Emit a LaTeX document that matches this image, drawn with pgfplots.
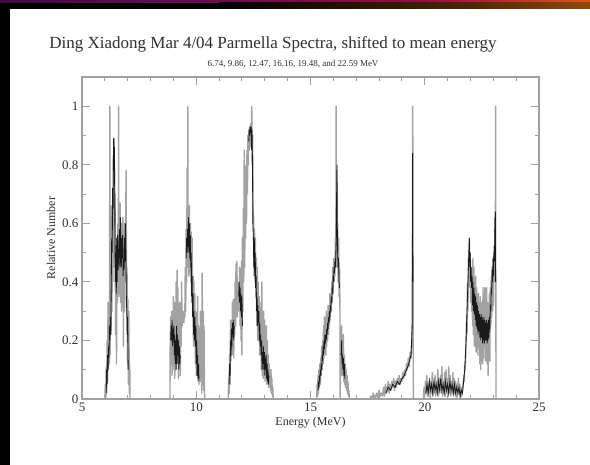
\documentclass[border=0pt]{standalone}
\usepackage{pgfplots}
\pgfplotsset{compat=1.18}
\usepackage{fontspec}
\setmainfont{Liberation Serif}
\definecolor{framegray}{HTML}{A0A0A0}
\definecolor{bandgray}{HTML}{A2A2A2}
\definecolor{darkline}{HTML}{1A1A1A}
\definecolor{txt}{HTML}{303030}
\definecolor{a0}{RGB}{61,10,66}
\definecolor{a1}{RGB}{92,15,82}
\definecolor{a2}{RGB}{122,15,71}
\definecolor{a3}{RGB}{143,15,66}
\definecolor{a4}{RGB}{179,46,46}
\definecolor{a5}{RGB}{219,87,28}
\definecolor{b1}{RGB}{36,18,0}
\definecolor{b2}{RGB}{77,38,8}
\definecolor{b3}{RGB}{143,74,13}
\pgfplotsset{gband/.style={bandgray, line width=1.4pt, line join=round}, dband/.style={darkline, line width=0.85pt}}
\begin{document}
\begin{tikzpicture}[x=1pt,y=1pt]
\useasboundingbox (0,0) rectangle (590,465);
\fill[white] (0,0) rectangle (590,465);
\shade[left color=a0, right color=a1] (0,462) rectangle (150.5,465);
\shade[left color=a1, right color=a2] (150,462) rectangle (300.5,465);
\shade[left color=a2, right color=a3] (300,462) rectangle (420.5,465);
\shade[left color=a3, right color=a4] (420,462) rectangle (500.5,465);
\shade[left color=a4, right color=a5] (500,462) rectangle (590,465);
\fill[black] (0,456) rectangle (220.5,462.2);
\shade[left color=black, right color=b1] (220,456) rectangle (350.5,462.2);
\shade[left color=b1, right color=b2] (350,456) rectangle (470.5,462.2);
\shade[left color=b2, right color=b3] (470,456) rectangle (590,462.2);
\fill[black] (0,0) rectangle (9.5,456.2);
\node[font=\fontsize{17}{20}\selectfont, text=txt] at (273,421) {Ding Xiadong Mar 4/04 Parmella Spectra, shifted to mean energy};
\node[font=\fontsize{9}{11}\selectfont, text=txt] at (293,401) {6.74, 9.86, 12.47, 16.16, 19.48, and 22.59 MeV};
\begin{axis}[
  at={(82pt,66pt)}, anchor=south west,
  scale only axis, width=457pt, height=322pt,
  xmin=5, xmax=25, ymin=0, ymax=1.1,
  xtick={5,10,15,20,25}, minor x tick num=4,
  ytick={0,0.2,0.4,0.6,0.8,1}, minor y tick num=1,
  yticklabels={0,0.2,0.4,0.6,0.8,1},
  tick align=inside,
  major tick length=8pt, minor tick length=4pt,
  axis line style={framegray, line width=1.3pt},
  every tick/.style={framegray, line width=1pt},
  tick label style={font=\fontsize{13}{15}\selectfont, text=txt},
  /pgf/number format/assume math mode=true,
  xlabel={Energy (MeV)}, ylabel={Relative Number},
  label style={font=\fontsize{12}{14}\selectfont, text=txt},
  xlabel style={yshift=1pt},
  ylabel style={yshift=0pt},
  clip=true,
]
% ---------- peak 1 ----------
\addplot[gband] coordinates {
(6.00,0.00)(6.02,0.05)(6.04,0.00)(6.06,0.11)(6.08,0.02)(6.10,0.20)(6.12,0.06)(6.14,0.33)(6.16,0.10)(6.18,0.30)(6.20,0.12)(6.22,1.00)(6.23,0.15)(6.25,0.35)(6.27,0.22)(6.29,0.66)(6.31,0.30)(6.33,0.55)(6.35,0.40)(6.37,0.82)(6.39,0.45)(6.41,0.89)(6.43,0.50)(6.45,0.70)(6.47,0.22)(6.49,0.55)(6.51,0.12)(6.53,0.50)(6.55,0.33)(6.57,0.60)(6.59,0.36)(6.60,1.00)(6.61,0.35)(6.63,0.66)(6.65,0.40)(6.67,0.67)(6.69,0.33)(6.71,0.60)(6.73,0.30)(6.75,0.58)(6.77,0.40)(6.79,0.62)(6.81,0.18)(6.83,0.50)(6.85,0.30)(6.87,0.60)(6.89,0.40)(6.91,0.55)(6.93,0.78)(6.95,0.30)(6.97,0.45)(6.99,0.12)(7.01,0.34)(7.03,0.05)(7.05,0.30)(7.07,0.02)(7.09,0.12)(7.10,0.00)};
\addplot[dband] coordinates {
(6.06,0.02)(6.08,0.10)(6.10,0.05)(6.12,0.15)(6.14,0.10)(6.16,0.18)(6.18,0.14)(6.20,0.25)(6.22,0.20)(6.24,0.28)(6.26,0.22)(6.28,0.40)(6.30,0.55)(6.32,0.50)(6.34,0.72)(6.36,0.65)(6.38,0.89)(6.40,0.80)(6.42,0.86)(6.44,0.60)(6.46,0.40)(6.48,0.50)(6.50,0.36)(6.52,0.55)(6.54,0.40)(6.56,0.56)(6.58,0.44)(6.62,0.52)(6.64,0.58)(6.66,0.45)(6.68,0.62)(6.70,0.50)(6.72,0.45)(6.74,0.55)(6.76,0.48)(6.78,0.56)(6.80,0.42)(6.82,0.48)(6.84,0.44)(6.86,0.55)(6.88,0.47)(6.90,0.60)(6.92,0.50)(6.94,0.35)(6.96,0.30)(6.98,0.22)(7.00,0.28)(7.02,0.10)};
% ---------- peak 2 ----------
\addplot[gband] coordinates {
(8.85,0.00)(8.86,0.18)(8.88,0.28)(8.90,0.12)(8.92,0.30)(8.94,0.08)(8.96,0.25)(8.98,0.10)(9.00,0.35)(9.02,0.15)(9.04,0.33)(9.06,0.07)(9.08,0.25)(9.10,0.10)(9.12,0.40)(9.14,0.12)(9.16,0.44)(9.18,0.20)(9.20,0.38)(9.22,0.07)(9.24,0.30)(9.26,0.12)(9.28,0.33)(9.30,0.08)(9.32,0.25)(9.34,0.18)(9.36,0.40)(9.38,0.25)(9.40,0.30)(9.42,0.27)(9.44,0.29)(9.46,0.26)(9.48,0.30)(9.50,0.28)(9.52,0.45)(9.54,0.30)(9.56,0.58)(9.58,0.40)(9.60,0.79)(9.62,0.45)(9.63,1.00)(9.64,0.50)(9.66,0.65)(9.68,0.42)(9.70,0.66)(9.72,0.45)(9.74,0.60)(9.76,0.40)(9.78,0.57)(9.80,0.33)(9.82,0.55)(9.84,0.30)(9.86,0.42)(9.88,0.18)(9.90,0.40)(9.92,0.20)(9.94,0.36)(9.96,0.12)(9.98,0.30)(10.00,0.08)(10.02,0.28)(10.04,0.10)(10.06,0.35)(10.08,0.06)(10.10,0.25)(10.12,0.05)(10.14,0.20)(10.16,0.07)(10.18,0.30)(10.20,0.06)(10.22,0.15)(10.24,0.02)(10.26,0.43)(10.28,0.05)(10.30,0.30)(10.32,0.03)(10.34,0.25)(10.36,0.02)(10.38,0.00)};
\addplot[dband] coordinates {
(8.88,0.20)(8.90,0.25)(8.92,0.20)(8.94,0.27)(8.96,0.18)(8.98,0.24)(9.00,0.20)(9.02,0.25)(9.04,0.15)(9.06,0.22)(9.08,0.12)(9.10,0.20)(9.12,0.10)(9.14,0.25)(9.16,0.12)(9.18,0.22)(9.20,0.15)(9.22,0.20)(9.24,0.10)(9.26,0.18)(9.28,0.12)(9.30,0.15)};
\addplot[dband] coordinates {
(9.56,0.48)(9.58,0.55)(9.60,0.50)(9.62,0.58)(9.64,0.52)(9.66,0.62)(9.68,0.50)(9.70,0.60)(9.72,0.48)(9.74,0.56)(9.76,0.45)(9.78,0.50)(9.80,0.35)(9.82,0.42)(9.84,0.28)(9.86,0.36)(9.88,0.22)(9.90,0.30)(9.92,0.20)(9.94,0.28)(9.96,0.18)(9.98,0.25)(10.00,0.12)(10.02,0.20)(10.04,0.08)(10.06,0.15)(10.08,0.07)(10.10,0.12)(10.12,0.06)};
% ---------- peak 3 ----------
\addplot[gband] coordinates {
(11.40,0.00)(11.42,0.07)(11.44,0.02)(11.46,0.15)(11.48,0.05)(11.50,0.27)(11.52,0.13)(11.54,0.25)(11.56,0.15)(11.58,0.33)(11.60,0.20)(11.62,0.34)(11.64,0.14)(11.66,0.30)(11.68,0.22)(11.70,0.40)(11.72,0.25)(11.74,0.46)(11.76,0.30)(11.78,0.47)(11.80,0.28)(11.82,0.40)(11.84,0.33)(11.86,0.38)(11.88,0.30)(11.90,0.45)(11.92,0.25)(11.94,0.40)(11.96,0.20)(11.98,0.47)(12.00,0.15)(12.02,0.55)(12.04,0.30)(12.06,0.65)(12.08,0.40)(12.10,0.85)(12.12,0.45)(12.14,0.70)(12.16,0.55)(12.18,0.80)(12.20,0.60)(12.22,0.85)(12.24,0.70)(12.26,0.90)(12.28,0.80)(12.30,0.92)(12.32,0.85)(12.34,0.93)(12.36,0.88)(12.38,0.94)(12.40,0.86)(12.43,1.00)(12.45,0.80)(12.47,0.90)(12.49,0.60)(12.51,0.62)(12.53,0.42)(12.55,0.58)(12.57,0.40)(12.59,0.55)(12.61,0.35)(12.63,0.48)(12.65,0.25)(12.67,0.45)(12.69,0.20)(12.71,0.40)(12.73,0.22)(12.75,0.35)(12.77,0.15)(12.79,0.33)(12.81,0.18)(12.83,0.30)(12.85,0.10)(12.87,0.40)(12.89,0.08)(12.91,0.25)(12.93,0.07)(12.95,0.30)(12.97,0.10)(12.99,0.27)(13.01,0.06)(13.03,0.22)(13.05,0.07)(13.07,0.25)(13.09,0.05)(13.11,0.20)(13.13,0.06)(13.15,0.15)(13.17,0.04)(13.19,0.12)(13.21,0.05)(13.23,0.10)(13.25,0.03)(13.27,0.10)(13.29,0.02)(13.31,0.07)(13.33,0.01)(13.35,0.04)(13.37,0.00)};
\addplot[dband] coordinates {
(11.44,0.05)(11.46,0.12)(11.48,0.08)(11.50,0.20)(11.52,0.15)(11.54,0.24)(11.56,0.18)(11.58,0.26)(11.60,0.22)(11.62,0.27)(11.64,0.20)(11.66,0.25)};
\addplot[dband] coordinates {
(11.86,0.35)(11.88,0.40)(11.90,0.33)(11.92,0.38)(11.94,0.30)(11.96,0.36)(11.98,0.28)(12.00,0.35)(12.02,0.25)};
\addplot[dband] coordinates {
(12.30,0.88)(12.32,0.92)(12.34,0.90)(12.36,0.93)(12.38,0.91)(12.40,0.93)(12.42,0.85)(12.44,0.92)(12.46,0.80)(12.48,0.60)(12.50,0.55)(12.52,0.45)(12.54,0.55)(12.56,0.42)(12.58,0.50)(12.60,0.38)(12.62,0.42)(12.64,0.30)(12.66,0.35)(12.68,0.25)(12.70,0.32)(12.72,0.26)(12.74,0.30)(12.76,0.20)(12.78,0.26)(12.80,0.18)(12.82,0.22)(12.84,0.15)(12.86,0.20)(12.88,0.10)(12.90,0.16)(12.92,0.12)(12.94,0.18)(12.96,0.10)(12.98,0.16)(13.00,0.08)(13.02,0.14)(13.04,0.10)(13.06,0.15)(13.08,0.07)(13.10,0.12)(13.12,0.06)(13.14,0.10)(13.16,0.05)(13.18,0.08)};
% ---------- peak 4 ----------
\addplot[gband] coordinates {
(15.27,0.00)(15.29,0.05)(15.31,0.01)(15.33,0.08)(15.35,0.02)(15.37,0.10)(15.39,0.04)(15.41,0.12)(15.43,0.05)(15.45,0.14)(15.47,0.08)(15.49,0.18)(15.51,0.10)(15.53,0.20)(15.55,0.12)(15.57,0.25)(15.59,0.14)(15.61,0.28)(15.63,0.16)(15.65,0.25)(15.67,0.15)(15.69,0.30)(15.71,0.18)(15.73,0.27)(15.75,0.20)(15.77,0.32)(15.79,0.22)(15.81,0.30)(15.83,0.25)(15.85,0.36)(15.87,0.27)(15.89,0.34)(15.91,0.30)(15.93,0.40)(15.95,0.33)(15.97,0.45)(15.99,0.36)(16.01,0.48)(16.03,0.40)(16.05,0.47)(16.07,0.42)(16.09,0.55)(16.11,0.45)(16.12,1.00)(16.13,0.50)(16.15,0.80)(16.17,0.45)(16.19,0.60)(16.21,0.40)(16.23,0.55)(16.25,0.35)(16.27,0.45)(16.29,0.30)(16.30,0.00)(16.32,0.20)(16.34,0.12)(16.36,0.25)(16.38,0.08)(16.40,0.18)(16.42,0.10)(16.44,0.22)(16.46,0.06)(16.48,0.15)(16.50,0.05)(16.52,0.12)(16.54,0.04)(16.56,0.10)(16.58,0.03)(16.60,0.08)(16.62,0.02)(16.64,0.06)(16.66,0.01)(16.68,0.03)(16.70,0.00)};
\addplot[dband] coordinates {
(15.33,0.03)(15.35,0.06)(15.37,0.04)(15.39,0.08)(15.41,0.06)(15.43,0.10)(15.45,0.08)(15.47,0.12)(15.49,0.10)(15.51,0.15)(15.53,0.13)(15.55,0.18)(15.57,0.15)(15.59,0.20)(15.61,0.17)(15.63,0.22)(15.65,0.19)(15.67,0.22)(15.69,0.20)(15.71,0.24)(15.73,0.22)(15.75,0.26)(15.77,0.24)(15.79,0.28)(15.81,0.26)(15.83,0.30)(15.85,0.28)(15.87,0.32)(15.89,0.30)(15.91,0.35)(15.93,0.33)(15.95,0.38)(15.97,0.36)(15.99,0.42)(16.01,0.40)(16.03,0.45)(16.05,0.43)(16.07,0.47)(16.09,0.45)(16.11,0.50)(16.13,0.55)(16.15,0.75)(16.16,0.80)(16.17,0.60)(16.19,0.50)(16.21,0.45)(16.23,0.48)(16.25,0.40)(16.27,0.38)};
\addplot[dband] coordinates {
(16.34,0.15)(16.36,0.20)(16.38,0.12)(16.40,0.15)(16.42,0.10)(16.44,0.14)(16.46,0.08)(16.48,0.12)(16.50,0.07)};
% ---------- peak 5 ----------
\addplot[gband] coordinates {
(17.60,0.00)(17.65,0.01)(17.70,0.00)(17.75,0.02)(17.80,0.00)(17.85,0.01)(17.90,0.02)(17.95,0.00)(18.00,0.03)(18.05,0.01)(18.10,0.02)(18.15,0.01)(18.20,0.04)(18.24,0.01)(18.28,0.05)(18.32,0.02)(18.36,0.03)(18.40,0.06)(18.44,0.02)(18.48,0.05)(18.52,0.03)(18.56,0.06)(18.60,0.04)(18.64,0.07)(18.68,0.03)(18.72,0.06)(18.76,0.04)(18.80,0.07)(18.84,0.05)(18.88,0.08)(18.92,0.05)(18.96,0.07)(19.00,0.06)(19.04,0.09)(19.08,0.07)(19.12,0.10)(19.16,0.08)(19.20,0.12)(19.24,0.10)(19.28,0.14)(19.32,0.11)(19.36,0.16)(19.40,0.14)(19.44,0.20)(19.46,0.30)(19.47,1.00)(19.48,0.85)(19.49,0.40)(19.50,0.00)};
\addplot[dband] coordinates {
(18.30,0.02)(18.40,0.04)(18.50,0.03)(18.60,0.05)(18.70,0.04)(18.80,0.06)(18.90,0.05)(19.00,0.07)(19.10,0.08)(19.20,0.10)(19.30,0.12)(19.40,0.15)(19.45,0.25)(19.47,0.84)(19.48,0.40)};
% ---------- peak 6 ----------
\addplot[gband] coordinates {
(19.94,0.00)(19.97,0.04)(20.00,0.01)(20.03,0.06)(20.06,0.02)(20.09,0.08)(20.12,0.01)(20.15,0.05)(20.18,0.02)(20.21,0.07)(20.24,0.00)(20.27,0.06)(20.30,0.02)(20.33,0.09)(20.36,0.01)(20.39,0.05)(20.42,0.02)(20.45,0.08)(20.48,0.01)(20.51,0.06)(20.54,0.02)(20.57,0.10)(20.60,0.01)(20.63,0.07)(20.66,0.03)(20.69,0.08)(20.72,0.02)(20.75,0.11)(20.78,0.01)(20.81,0.06)(20.84,0.02)(20.87,0.09)(20.90,0.01)(20.93,0.10)(20.96,0.02)(20.99,0.07)(21.02,0.01)(21.05,0.11)(21.08,0.02)(21.11,0.08)(21.14,0.01)(21.17,0.06)(21.20,0.02)(21.23,0.09)(21.26,0.01)(21.29,0.07)(21.32,0.02)(21.35,0.06)(21.38,0.00)(21.41,0.05)(21.44,0.01)(21.47,0.07)(21.50,0.02)(21.53,0.05)(21.56,0.00)(21.59,0.04)(21.62,0.01)(21.65,0.03)(21.68,0.05)(21.71,0.08)(21.73,0.06)(21.75,0.12)(21.77,0.10)(21.79,0.15)(21.81,0.20)(21.83,0.28)(21.85,0.22)(21.87,0.40)(21.89,0.30)(21.91,0.48)(21.93,0.38)(21.95,0.55)(21.97,0.40)(21.99,0.50)(22.01,0.33)(22.03,0.45)(22.05,0.30)(22.07,0.42)(22.09,0.25)(22.11,0.48)(22.13,0.22)(22.15,0.45)(22.17,0.18)(22.19,0.40)(22.21,0.20)(22.23,0.42)(22.25,0.16)(22.27,0.38)(22.29,0.18)(22.31,0.35)(22.33,0.15)(22.35,0.36)(22.37,0.20)(22.39,0.33)(22.41,0.12)(22.43,0.35)(22.45,0.10)(22.47,0.30)(22.49,0.15)(22.51,0.33)(22.53,0.12)(22.55,0.38)(22.57,0.14)(22.59,0.36)(22.61,0.18)(22.63,0.38)(22.65,0.13)(22.67,0.35)(22.69,0.15)(22.71,0.38)(22.73,0.12)(22.75,0.33)(22.77,0.08)(22.79,0.30)(22.81,0.15)(22.83,0.36)(22.85,0.13)(22.87,0.38)(22.89,0.25)(22.91,0.42)(22.93,0.28)(22.95,0.45)(22.97,0.30)(22.99,0.48)(23.01,0.32)(23.03,0.52)(23.05,0.40)(23.07,0.62)(23.09,0.45)(23.10,1.00)(23.11,0.40)(23.12,0.00)};
\addplot[dband] coordinates {
(20.05,0.02)(20.10,0.05)(20.15,0.02)(20.20,0.06)(20.25,0.03)(20.30,0.05)(20.35,0.02)(20.40,0.06)(20.45,0.03)(20.50,0.05)(20.55,0.02)(20.60,0.06)(20.65,0.03)(20.70,0.07)(20.75,0.03)(20.80,0.05)(20.85,0.02)(20.90,0.06)(20.95,0.03)(21.00,0.05)(21.05,0.02)(21.10,0.06)(21.15,0.03)(21.20,0.05)(21.25,0.02)(21.30,0.05)(21.35,0.02)(21.40,0.04)(21.45,0.02)(21.50,0.04)(21.55,0.01)(21.60,0.03)(21.65,0.02)(21.70,0.06)(21.75,0.10)(21.80,0.18)(21.85,0.30)(21.90,0.42)(21.93,0.50)(21.95,0.55)(21.97,0.45)(21.99,0.50)(22.01,0.40)(22.03,0.45)(22.05,0.38)(22.07,0.42)(22.09,0.32)(22.11,0.40)(22.13,0.30)(22.15,0.38)(22.17,0.29)(22.19,0.36)(22.21,0.27)(22.23,0.35)(22.25,0.25)(22.27,0.33)(22.29,0.24)(22.31,0.32)(22.33,0.22)(22.35,0.30)(22.37,0.23)(22.39,0.29)(22.41,0.21)(22.43,0.28)(22.45,0.20)(22.47,0.29)(22.49,0.21)(22.51,0.28)(22.53,0.19)(22.55,0.27)(22.57,0.20)(22.59,0.28)(22.61,0.19)(22.63,0.27)(22.65,0.20)(22.67,0.26)(22.69,0.20)(22.71,0.27)(22.73,0.19)(22.75,0.26)(22.77,0.20)(22.79,0.27)(22.81,0.21)(22.83,0.28)(22.85,0.24)(22.87,0.32)(22.89,0.30)(22.91,0.38)(22.93,0.36)(22.95,0.44)(22.97,0.40)(22.99,0.48)(23.01,0.42)(23.03,0.50)(23.05,0.47)(23.07,0.58)(23.09,0.64)(23.10,0.40)};
\end{axis}
\end{tikzpicture}
\end{document}
